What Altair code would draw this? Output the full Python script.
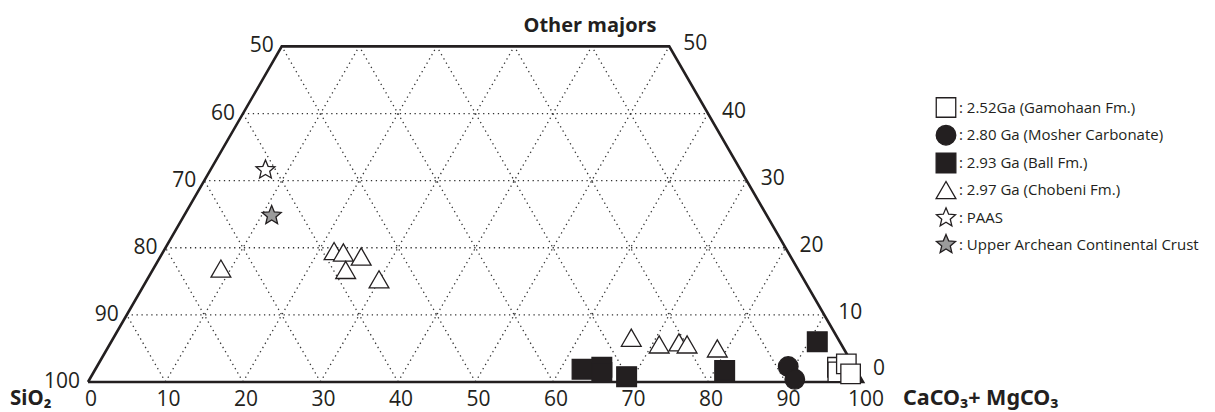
import altair as alt
import numpy as np
import pandas as pd

# ---------------- data (ternary: carbonate %, other majors %, SiO2 = rest) ----
groups = ["2.52Ga (Gamohaan Fm.)", "2.80 Ga (Mosher Carbonate)", "2.93 Ga (Ball Fm.)",
          "2.97 Ga (Chobeni Fm.)", "PAAS", "Upper Archean Continental Crust"]

gamohaan_carb = [95.6, 96.0, 96.5, 97.8]
gamohaan_other = [2.2, 1.5, 2.7, 1.2]
mosher_carb = [89.2, 91.0]
mosher_other = [2.3, 0.4]
ball_carb = [62.8, 65.2, 65.6, 69.1, 81.3, 91.1]
ball_other = [1.9, 2.2, 1.4, 0.8, 1.7, 6.0]
chobeni_carb = [8.7, 22.0, 23.3, 25.9, 24.9, 29.9, 66.8, 70.9, 73.3, 74.5, 78.7]
chobeni_other = [16.9, 19.5, 19.3, 18.7, 16.7, 15.3, 6.6, 5.6, 5.9, 5.6, 5.0]
paas_carb = [7.1]
paas_other = [31.6]
uacc_carb = [11.3]
uacc_other = [24.8]

bottom_ticks = [0, 10, 20, 30, 40, 50, 60, 70, 80, 90, 100]   # CaCO3+MgCO3
left_ticks = [100, 90, 80, 70, 60, 50]                          # SiO2
right_ticks = [10, 20, 30, 40, 50]                              # other majors
right_zero = [0]

INK = "#231f20"
W, H = 1199, 404
PX = 7.75                       # pixels per percent along the base
SQ = np.sqrt(3) / 2

# ---------------- tables ----------------
rows = []
for g, cs, os_ in [(groups[3], chobeni_carb, chobeni_other),
                   (groups[0], gamohaan_carb, gamohaan_other),
                   (groups[1], mosher_carb, mosher_other),
                   (groups[2], ball_carb, ball_other),
                   (groups[4], paas_carb, paas_other),
                   (groups[5], uacc_carb, uacc_other)]:
    for c, o in zip(cs, os_):
        rows.append({"group": g, "carb": c, "other": o, "X": c + o / 2, "Y": o})
pts = pd.DataFrame(rows)

segs = []
for o in [10, 20, 30, 40]:
    segs.append({"X": o / 2, "Y": o, "X2": 100 - o / 2, "Y2": o})
for c in range(10, 100, 10):
    oe = min(50, 100 - c)
    segs.append({"X": c, "Y": 0, "X2": c + oe / 2, "Y2": oe})
for s in range(10, 100, 10):
    if s <= 50:
        ce, oe = 50 - s, 50
    else:
        ce, oe = 0, 100 - s
    segs.append({"X": 100 - s, "Y": 0, "X2": ce + oe / 2, "Y2": oe})
segs = pd.DataFrame(segs)

outline = pd.DataFrame({"X": [0, 100, 75, 25, 0], "Y": [0, 0, 50, 50, 0], "i": [0, 1, 2, 3, 4]})

left_df = pd.DataFrame({"t": [str(v) for v in left_ticks],
                        "X": [(100 - v) / 2 for v in left_ticks],
                        "Y": [100 - v for v in left_ticks]})
bottom_df = pd.DataFrame({"t": [str(v) for v in bottom_ticks],
                          "X": bottom_ticks, "Y": [0] * len(bottom_ticks)})
right_df = pd.DataFrame({"t": [str(v) for v in right_ticks],
                         "X": [100 - v / 2 for v in right_ticks], "Y": right_ticks})
right0_df = pd.DataFrame({"t": [str(v) for v in right_zero],
                          "X": [100 - v / 2 for v in right_zero], "Y": right_zero})

# ---------------- scales ----------------
xs = alt.Scale(domain=[-80 / PX, (W - 80) / PX], nice=False, zero=False)
ys = alt.Scale(domain=[(374 - H) / (PX * SQ), 374 / (PX * SQ)], nice=False, zero=False)
X = alt.X("X:Q", scale=xs, axis=None)
Y = alt.Y("Y:Q", scale=ys, axis=None)

grid = alt.Chart(segs).mark_rule(color="#333333", strokeWidth=1.3, strokeDash=[1.3, 3.6]).encode(
    x=X, y=Y, x2="X2:Q", y2="Y2:Q")

frame = alt.Chart(outline).mark_line(color=INK, strokeWidth=2.6, strokeJoin="miter").encode(
    x=X, y=Y, order="i:O")

star = ("M0,-1L0.2645,-0.364L0.951,-0.309L0.428,0.139L0.588,0.809L0,0.45"
        "L-0.588,0.809L-0.428,0.139L-0.951,-0.309L-0.2645,-0.364Z")

leg = alt.Legend(title=None, orient="none", legendX=927, legendY=89,
                 labelFont="Open Sans", labelFontSize=15, labelColor=INK, labelLimit=400,
                 labelExpr="': ' + datum.label", labelOffset=2, rowPadding=2.7, padding=0,
                 symbolStrokeWidth=1.3, symbolOpacity=1)

points = alt.Chart(pts).mark_point(filled=True, opacity=1, strokeWidth=1.3).encode(
    x=X, y=Y,
    shape=alt.Shape("group:N", scale=alt.Scale(
        domain=groups, range=["square", "circle", "square", "triangle-up", star, star]), legend=leg),
    fill=alt.Fill("group:N", scale=alt.Scale(
        domain=groups, range=["white", INK, INK, "white", "white", "#9b9b9b"]), legend=leg),
    stroke=alt.Stroke("group:N", scale=alt.Scale(
        domain=groups, range=[INK] * 6), legend=leg),
    size=alt.Size("group:N", scale=alt.Scale(
        domain=groups, range=[380, 400, 361, 490, 441, 441]), legend=leg),
)

tfont = dict(font="Open Sans", fontSize=21, color=INK)
left_lab = alt.Chart(left_df).mark_text(align="right", baseline="middle", dx=-8, **tfont).encode(
    x=X, y=Y, text="t:N")
bottom_lab = alt.Chart(bottom_df).mark_text(align="center", baseline="middle", dx=3, dy=18, **tfont).encode(
    x=X, y=Y, text="t:N")
right_lab = alt.Chart(right_df).mark_text(align="left", baseline="middle", dx=14, dy=-2, **tfont).encode(
    x=X, y=Y, text="t:N")
right0_lab = alt.Chart(right0_df).mark_text(align="left", baseline="middle", dx=10, dy=-13, **tfont).encode(
    x=X, y=Y, text="t:N")

title = alt.Chart(pd.DataFrame({"t": ["Other majors"]})).mark_text(
    font="Open Sans", fontSize=20, fontWeight="bold", color=INK, align="center", baseline="alphabetic"
).encode(x=alt.value(582), y=alt.value(24), text="t:N")

sio2 = alt.Chart(pd.DataFrame({"t": ["SiO₂"]})).mark_text(
    font="Noto Sans", fontSize=20.5, fontWeight="bold", color=INK, align="left", baseline="alphabetic"
).encode(x=alt.value(2), y=alt.value(397), text="t:N")

carb = alt.Chart(pd.DataFrame({"t": ["CaCO₃+ MgCO₃"]})).mark_text(
    font="Noto Sans", fontSize=21.5, fontWeight="bold", color=INK, align="left", baseline="alphabetic"
).encode(x=alt.value(895), y=alt.value(397), text="t:N")

chart = alt.layer(grid, frame, points, left_lab, bottom_lab, right_lab, right0_lab,
                  title, sio2, carb).properties(
    width=W, height=H, padding=0, autosize="none", background="white"
).configure_view(stroke=None)

chart.save("out.html", embed_options={"renderer": "svg", "actions": False})
